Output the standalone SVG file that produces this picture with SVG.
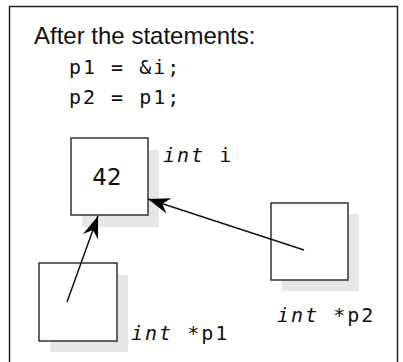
<svg xmlns="http://www.w3.org/2000/svg" width="403" height="362" viewBox="0 0 403 362">
  <style>
    .frame { fill: #ffffff; stroke: #222222; stroke-width: 1.5; }
    .shadow { fill: #e6e6e6; stroke: none; }
    .cell { fill: #ffffff; stroke: #333333; stroke-width: 1.5; }
    .title { font-family: "Liberation Sans", Arial, sans-serif; font-size: 24px; fill: #111111; }
    .code { font-family: "DejaVu Sans Mono", monospace; font-size: 20px; letter-spacing: 2px; fill: #111111; }
    .value { font-family: "DejaVu Sans", sans-serif; font-size: 23px; fill: #111111; text-anchor: middle; }
    .kw { font-style: italic; }
    .link { stroke: #111111; stroke-width: 1.5; fill: none; marker-end: url(#head); }
  </style>
  <defs>
    <marker id="head" viewBox="-24 -10 26 20" refX="0" refY="0" markerWidth="26" markerHeight="20" markerUnits="userSpaceOnUse" orient="auto">
      <path d="M0,0 L-22,-8 L-15,0 L-22,8 Z" fill="#000000"/>
    </marker>
  </defs>

  <rect class="frame" x="9.5" y="6.5" width="388" height="370"/>

  <g id="caption">
    <text class="title" x="34" y="44">After the statements:</text>
    <text class="code" x="69" y="74">p1 = &amp;i;</text>
    <text class="code" x="69" y="104">p2 = p1;</text>
  </g>

  <g id="node-i">
    <rect class="shadow" x="82" y="150" width="77" height="77"/>
    <rect class="cell" x="71" y="138" width="77" height="77"/>
    <text class="value" x="107" y="185">42</text>
    <text class="code" x="163" y="162"><tspan class="kw">int</tspan> i</text>
  </g>

  <g id="node-p1">
    <rect class="shadow" x="50" y="275" width="78" height="77"/>
    <rect class="cell" x="39" y="263" width="78" height="78"/>
    <text class="code" x="131" y="340"><tspan class="kw">int</tspan> *p1</text>
  </g>

  <g id="node-p2">
    <rect class="shadow" x="282" y="214" width="77" height="77"/>
    <rect class="cell" x="271" y="203" width="77" height="77"/>
    <text class="code" x="277" y="322"><tspan class="kw">int</tspan> *p2</text>
  </g>

  <g id="connectors">
    <line class="link" x1="67" y1="302" x2="98" y2="216"/>
    <line class="link" x1="304" y1="250" x2="148" y2="199"/>
  </g>
</svg>
